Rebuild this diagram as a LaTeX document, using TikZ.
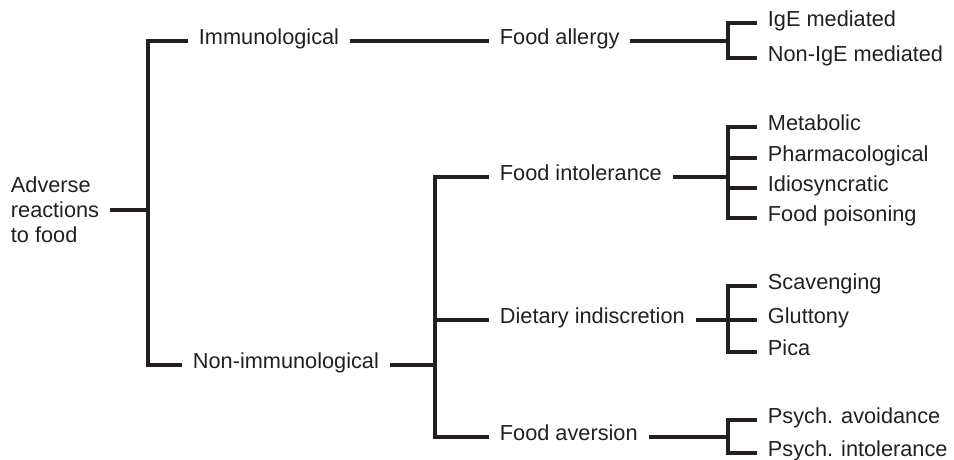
\documentclass[tikz,border=0pt]{standalone}
\usepackage{fontspec}
\setmainfont{Liberation Sans}
\usetikzlibrary{positioning}
\definecolor{inkBlack}{HTML}{231F20}

\begin{document}
\begin{tikzpicture}[
      x=0.75pt, y=-0.75pt,
      item/.style={
        anchor=west, inner xsep=8pt, inner ysep=0pt, text=inkBlack,
        font=\fontsize{16.3pt}{18.75pt}\selectfont,
        text height=0.72em, text depth=0.21em
      },
      rootitem/.style={
        anchor=west, inner xsep=8pt, inner ysep=0pt, text=inkBlack, align=left,
        font=\fontsize{16.3pt}{18.75pt}\selectfont
      },
      branch/.style={draw=inkBlack, line width=3.5pt}
    ]
      \useasboundingbox (0,0) rectangle (954,460);

      % level 0 and 1
      \node[rootitem] (root) at (0,210) {Adverse\\reactions\\to food};
      \node[item] (immu) at (188,41) {Immunological};
      \node[item] (nonimmu) at (182,365) {Non-immunological};

      % level 2
      \node[item] (allergy) at (489,41) {Food allergy};
      \node[item] (intol) at (489,177) {Food intolerance};
      \node[item] (dietary) at (489,320) {Dietary indiscretion};
      \node[item] (aversion) at (489,437) {Food aversion};

      % level 3
      \node[item] (ige) at (757,23) {IgE mediated};
      \node[item] (nonige) at (757,58) {Non-IgE mediated};
      \node[item] (metab) at (757,127) {Metabolic};
      \node[item] (pharm) at (757,158) {Pharmacological};
      \node[item] (idio) at (757,188) {Idiosyncratic};
      \node[item] (poison) at (757,218) {Food poisoning};
      \node[item] (scav) at (757,286) {Scavenging};
      \node[item] (glut) at (757,320) {Gluttony};
      \node[item] (pica) at (757,352) {Pica};
      \node[item] (avoid) at (757,420) {Psych. avoidance};
      \node[item] (psyint) at (757,453) {Psych. intolerance};

      % bracket joints
      \coordinate (j0) at (148,210);
      \coordinate (j1) at (435,365);
      \coordinate (j2) at (728,41);
      \coordinate (j3) at (728,177);
      \coordinate (j4) at (728,320);
      \coordinate (j5) at (728,437);

      \draw[branch] (root.east) -- (j0);
      \draw[branch] (immu.west) -| (j0) |- (nonimmu.west);

      \draw[branch] (immu.east) -- (allergy.west);
      \draw[branch] (nonimmu.east) -- (j1);
      \draw[branch] (intol.west) -| (j1) |- (aversion.west);
      \draw[branch] (dietary.west) -- (dietary.west -| j1);

      \draw[branch] (allergy.east) -- (j2);
      \draw[branch] (ige.west) -| (j2) |- (nonige.west);

      \draw[branch] (intol.east) -- (j3);
      \draw[branch] (metab.west) -| (j3) |- (poison.west);
      \draw[branch] (pharm.west) -- (pharm.west -| j3);
      \draw[branch] (idio.west) -- (idio.west -| j3);

      \draw[branch] (dietary.east) -- (j4);
      \draw[branch] (scav.west) -| (j4) |- (pica.west);
      \draw[branch] (glut.west) -- (glut.west -| j4);

      \draw[branch] (aversion.east) -- (j5);
      \draw[branch] (avoid.west) -| (j5) |- (psyint.west);
    \end{tikzpicture}
\end{document}
